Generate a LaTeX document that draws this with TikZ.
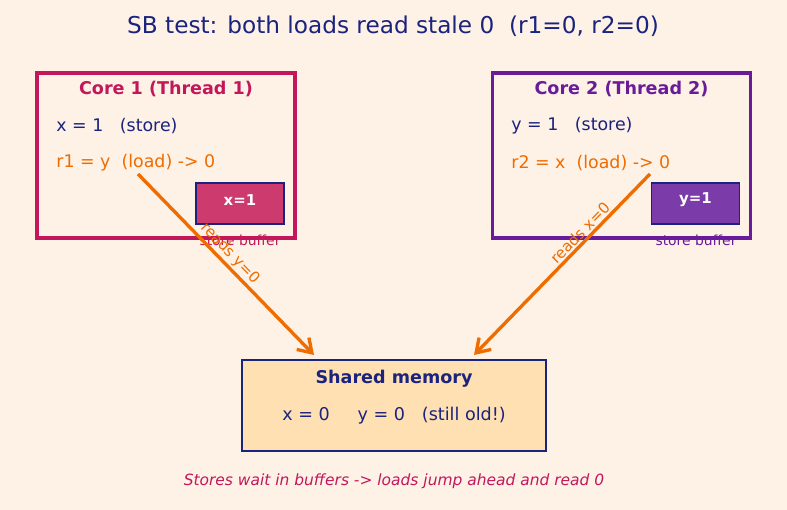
\documentclass[tikz,border=0pt]{standalone}
\usepackage{fontspec}
\setmainfont{DejaVu Sans}
\usepackage{xcolor}
\usetikzlibrary{arrows.meta,positioning,calc}
\definecolor{bgpeach}{HTML}{FEF1E6}
\definecolor{navy}{HTML}{1A237E}
\definecolor{crimson}{HTML}{C2185B}
\definecolor{grape}{HTML}{6A1B9A}
\definecolor{tangerine}{HTML}{EF6C00}
\definecolor{bufrose}{HTML}{CC3A6E}
\definecolor{bufgrape}{HTML}{7B3BA8}
\definecolor{memfill}{HTML}{FFE0B2}
\tikzset{
  corebox/.style={draw, line width=2pt, minimum width=5.16cm, minimum height=3.3cm, inner sep=0pt},
  bufbox/.style={draw=navy, line width=0.8pt, minimum width=1.76cm, minimum height=0.82cm, inner sep=0pt},
  memorybox/.style={draw=navy, fill=memfill, line width=1.5pt, minimum width=6.08cm, minimum height=1.82cm, inner sep=0pt},
  corehead/.style={font=\fontsize{10}{12}\selectfont\bfseries},
  codeline/.style={anchor=west, inner sep=0pt, font=\fontsize{9.9}{12}\selectfont},
  bufvalue/.style={text=white, font=\fontsize{8.5}{10}\selectfont\bfseries},
  buflabel/.style={font=\fontsize{7.9}{9}\selectfont},
  readarrow/.style={-{Straight Barb[length=2.6mm,width=3.4mm]}, draw=tangerine, line width=1.9pt},
  readlabel/.style={text=tangerine, font=\fontsize{8.6}{10}\selectfont, sloped, above, inner sep=1pt}
}
\begin{document}
\begin{tikzpicture}[x=0.02cm, y=-0.02cm]
\fill[bgpeach] (0,0) rectangle (787,510);
\useasboundingbox (0,0) rectangle (787,510);
% title
\node[text=navy, font=\fontsize{13.2}{15}\selectfont] (title) at (393,26) {SB test: both loads read stale 0\ \ (r1=0, r2=0)};
% core 1
\node[corebox, draw=crimson] (core1) at (166,155.5) {};
\node[corehead, text=crimson] (head1) at (166,89) {Core 1 (Thread 1)};
\node[codeline, text=navy] (store1) at (56,126) {x = 1\ \ \ (store)};
\node[codeline, text=tangerine] (load1) at (56,163) {r1 = y\ \ (load) -> 0};
\node[bufbox, fill=bufrose] (buf1) at (240,203.5) {};
\node[bufvalue] (bufval1) at (240,200) {x=1};
\node[buflabel, text=crimson] (buflab1) at (240,240) {store buffer};
% core 2
\node[corebox, draw=grape] (core2) at (621.5,155.5) {};
\node[corehead, text=grape] (head2) at (621.5,89) {Core 2 (Thread 2)};
\node[codeline, text=navy] (store2) at (511,126) {y = 1\ \ \ (store)};
\node[codeline, text=tangerine] (load2) at (511,163) {r2 = x\ \ (load) -> 0};
\node[bufbox, fill=bufgrape] (buf2) at (695.5,203.5) {};
\node[bufvalue] (bufval2) at (695.5,200) {y=1};
\node[buflabel, text=grape] (buflab2) at (696,240) {store buffer};
% shared memory
\node[memorybox] (mem) at (394,405.5) {};
\node[corehead, text=navy] (memhead) at (394,379) {Shared memory};
\node[font=\fontsize{10}{12}\selectfont, text=navy] (memvals) at (394,416) {x = 0\ \ \ \ \ y = 0\ \ \ (still old!)};
% loads reading memory
\coordinate (from1) at (138,174);
\coordinate (to1) at (314,355);
\coordinate (from2) at (650,174);
\coordinate (to2) at (474,355);
\draw[readarrow] (from1) -- node[readlabel, pos=0.48] {reads y=0} (to1);
\draw[readarrow] (from2) -- node[readlabel, pos=0.36] {reads x=0} (to2);
% footer
\node[text=crimson, font=\fontsize{8.8}{10}\selectfont\itshape] (note) at (394,481) {Stores wait in buffers -> loads jump ahead and read 0};
\end{tikzpicture}
\end{document}
